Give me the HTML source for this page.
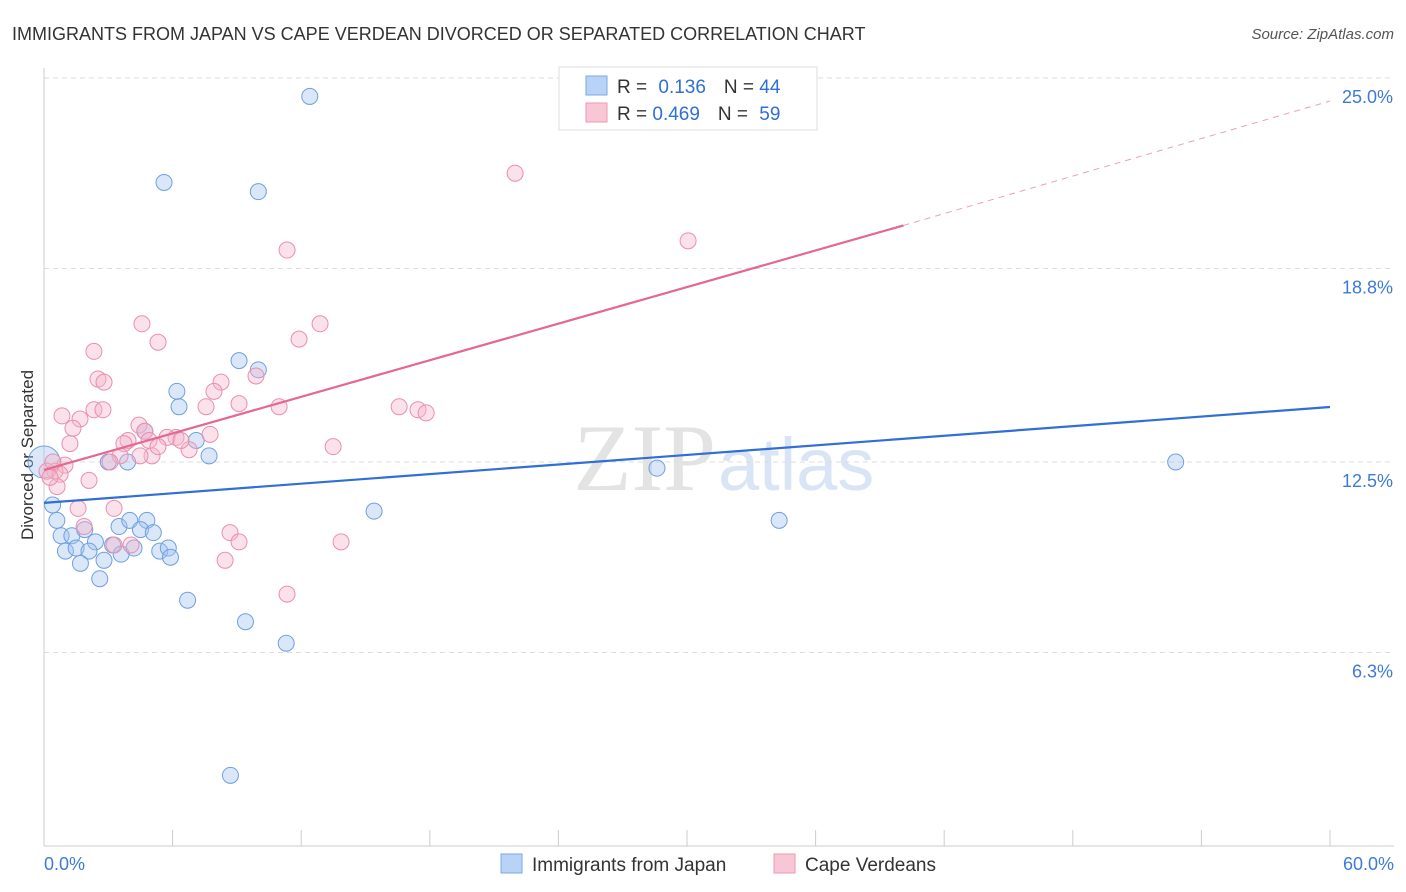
<!DOCTYPE html>
<html><head><meta charset="utf-8"><style>
body{margin:0;background:#fff;font-family:"Liberation Sans",sans-serif;}
svg{display:block}
</style></head><body>
<svg id="c" width="1406" height="892">
<text x="12" y="40" font-size="18" fill="#333">IMMIGRANTS FROM JAPAN VS CAPE VERDEAN DIVORCED OR SEPARATED CORRELATION CHART</text>
<text x="1394" y="39" font-size="15" fill="#555" font-style="italic" text-anchor="end">Source: ZipAtlas.com</text>
<text x="33" y="455" font-size="17" fill="#333" text-anchor="middle" transform="rotate(-90 33 455)">Divorced or Separated</text>
<text x="716" y="490" font-size="95" fill="#e3e3e3" text-anchor="end" font-family="Liberation Serif,serif">ZIP</text>
<text x="718" y="490" font-size="74" fill="#d9e4f4">atlas</text>
<g id="grid"></g><g id="marks"></g>
<g>
<rect x="559" y="67" width="258" height="63" fill="#fff" stroke="#ddd"/>
<rect x="586" y="76" width="21" height="19" fill="#b8d3f5" stroke="#7aa7e3"/>
<rect x="586" y="103" width="21" height="19" fill="#f9c6d5" stroke="#eb9ab5"/>
<text x="617" y="93" font-size="19" fill="#333">R = <tspan fill="#2f6fd6" dx="6">0.136</tspan><tspan dx="18" fill="#333">N = </tspan><tspan fill="#2f6fd6">44</tspan></text>
<text x="617" y="120" font-size="19" fill="#333">R = <tspan fill="#2f6fd6">0.469</tspan><tspan dx="18" fill="#333">N = </tspan><tspan fill="#2f6fd6" dx="6">59</tspan></text>
</g>
<g>
<rect x="501" y="854" width="21" height="19" fill="#b8d3f5" stroke="#7aa7e3"/>
<text x="532" y="871" font-size="19" fill="#333">Immigrants from Japan</text>
<rect x="774" y="854" width="21" height="19" fill="#f9c6d5" stroke="#eb9ab5"/>
<text x="805" y="871" font-size="19" fill="#333">Cape Verdeans</text>
</g>
</svg>
<script>
const yTicks=[6.3,12.5,18.8,25.0];
const yTickLabels=["6.3%","12.5%","18.8%","25.0%"];
const xTicks=[0,6,12,18,24,30,36,42,48,54,60];
const blueX=[12.4,5.6,10.0,9.1,10.0,6.2,6.3,4.7,7.1,7.7,3.9,3.0,0.4,0.6,0.8,1.3,1.9,2.4,1.0,1.5,2.1,1.7,2.8,3.5,4.0,4.8,4.5,5.1,3.2,3.6,4.2,5.4,5.8,5.9,2.6,6.7,9.4,11.3,8.7,15.4,28.6,34.3,52.8,0];
const blueY=[24.4,21.6,21.3,15.8,15.5,14.8,14.3,13.5,13.2,12.7,12.5,12.5,11.1,10.6,10.1,10.1,10.3,9.9,9.6,9.7,9.6,9.2,9.3,10.4,10.6,10.6,10.3,10.2,9.8,9.5,9.7,9.6,9.7,9.4,8.7,8.0,7.3,6.6,2.3,10.9,12.3,10.6,12.5,12.5];
const pinkX=[21.98,30.05,11.34,4.57,12.88,5.32,11.9,2.33,2.52,2.8,8.26,9.89,7.93,9.1,7.56,10.97,2.33,2.75,0.84,1.68,1.35,1.21,4.43,4.71,3.92,4.9,3.73,6.16,5.74,7.75,6.77,6.39,5.04,3.55,13.49,16.57,17.45,17.83,0.98,0.51,0.14,0.75,2.1,0.61,1.59,3.27,1.87,3.27,4.06,8.68,9.1,13.86,8.45,11.34,3.08,0.42,4.48,5.32,0.28];
const pinkY=[21.9,19.7,19.4,17.0,17.0,16.4,16.5,16.1,15.2,15.1,15.1,15.3,14.8,14.4,14.3,14.3,14.2,14.2,14.0,13.9,13.6,13.1,13.7,13.5,13.2,13.2,13.1,13.3,13.3,13.4,12.9,13.2,12.7,12.7,13.0,14.3,14.2,14.1,12.4,12.2,12.2,12.1,11.9,11.7,10.99,10.99,10.4,9.8,9.8,10.2,9.9,9.9,9.3,8.2,12.5,12.5,12.7,13.0,12.0];
const blueLine=[11.17,14.29];
const pinkLine=[12.24,20.2,24.25];
const NS="http://www.w3.org/2000/svg";
const X=v=>44+v*(1286/60), Y=v=>846-v*30.72;
function mk(t,a,p){const e=document.createElementNS(NS,t);for(const k in a)e.setAttribute(k,a[k]);p.appendChild(e);return e;}
const g=document.getElementById('grid'),m=document.getElementById('marks');
yTicks.forEach((t,i)=>{const l=mk('line',{x1:44,x2:1394,y1:Y(t),y2:Y(t),stroke:'#ddd','stroke-dasharray':'5,4'},g);


const tx=mk('text',{x:1393,y:Y(t)+25,'font-size':18,fill:'#3d7ad8','text-anchor':'end'},g);tx.textContent=yTickLabels[i];

});
mk('line',{x1:44,x2:44,y1:68,y2:846,stroke:'#ccc'},g);
mk('line',{x1:44,x2:1394,y1:846,y2:846,stroke:'#ccc'},g);
xTicks.forEach(t=>{const l=mk('line',{x1:X(t),x2:X(t),y1:830,y2:846,stroke:'#ccc'},g);

});
let t0=mk('text',{x:44,y:870,'font-size':18,fill:'#3d7ad8'},g);t0.textContent='0.0%';


let t1=mk('text',{x:1394,y:870,'font-size':18,fill:'#3d7ad8','text-anchor':'end'},g);t1.textContent='60.0%';


blueX.forEach((v,i)=>{const c=mk('circle',{cx:X(v),cy:Y(blueY[i]),r:i==blueX.length-1?16:8,fill:'rgba(160,196,240,0.4)',stroke:'#6f9fe0','stroke-width':1},m);

});
pinkX.forEach((v,i)=>{const c=mk('circle',{cx:X(v),cy:Y(pinkY[i]),r:8,fill:'rgba(246,180,200,0.4)',stroke:'#ea8fae','stroke-width':1},m);

});
let bl=mk('line',{x1:X(0),y1:Y(blueLine[0]),x2:X(60),y2:Y(blueLine[1]),stroke:'#2f6fd6','stroke-width':2.2},m);


let pl=mk('line',{x1:X(0),y1:Y(pinkLine[0]),x2:X(40.1),y2:Y(pinkLine[1]),stroke:'#e4688f','stroke-width':2.2},m);


let pd=mk('line',{x1:X(40.1),y1:Y(pinkLine[1]),x2:X(60),y2:Y(pinkLine[2]),stroke:'#e9a0b8','stroke-width':1,'stroke-dasharray':'6,5'},m);


</script>
</body></html>
